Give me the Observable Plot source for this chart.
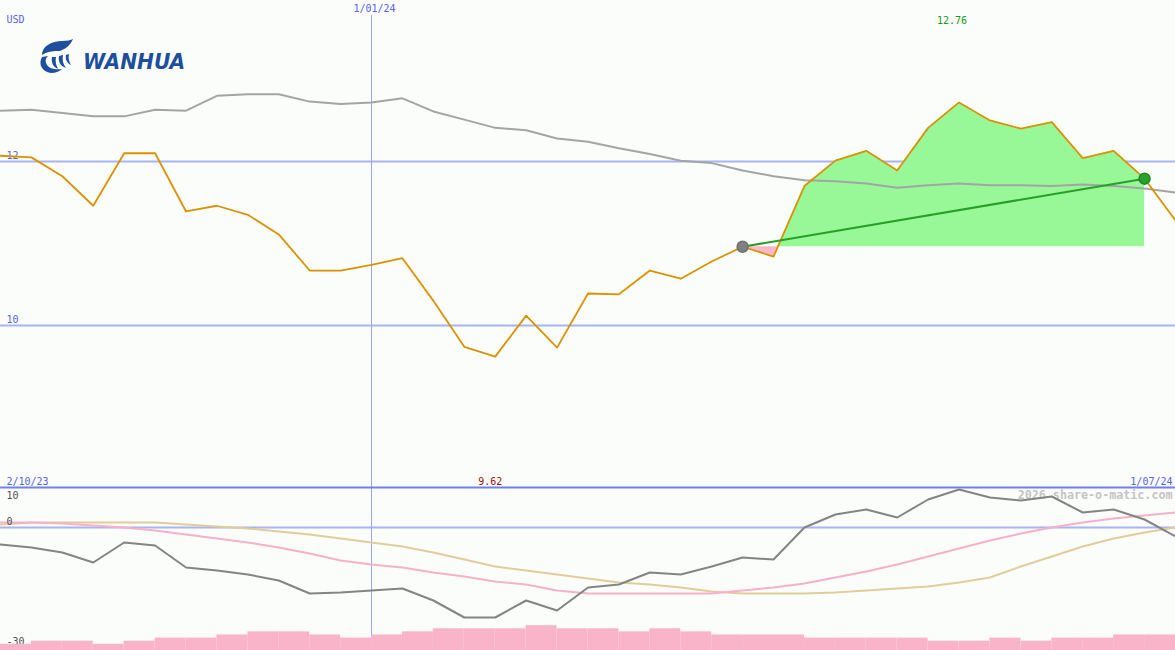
<!DOCTYPE html>
<html><head><meta charset="utf-8">
<script src="https://cdn.jsdelivr.net/npm/d3@7"></script>
<script src="https://cdn.jsdelivr.net/npm/@observablehq/plot@0.6"></script>
<style>
html,body{margin:0;padding:0;background:#fbfdfb;}
#chart{position:relative;width:1175px;height:650px;overflow:hidden;background:#fbfdfb;}
#chart > .layer{position:absolute;left:0;}
#chart svg{overflow:visible;}
</style></head><body><div id="chart"></div>
<script>
// ---- data (weekly, 2/10/23 .. 1/07/24) ----
const unitLabel = "USD";
const startLabel = "2/10/23", midLabel = "1/01/24", endLabel = "1/07/24";
const midIndex = 12;
const hiLabel = "12.76", loLabel = "9.62";
const closes = [12.07,12.05,11.82,11.46,12.10,12.10,11.39,11.46,11.35,11.11,10.67,10.67,10.74,10.82,10.30,9.74,9.62,10.12,9.73,10.39,10.38,10.67,10.57,10.78,10.96,10.84,11.70,12.01,12.13,11.89,12.41,12.72,12.50,12.40,12.48,12.04,12.13,11.79,11.28];
const movingAvg = [12.62,12.63,12.59,12.55,12.55,12.63,12.62,12.80,12.82,12.82,12.73,12.70,12.72,12.77,12.61,12.51,12.41,12.38,12.28,12.24,12.16,12.09,12.01,11.98,11.89,11.82,11.77,11.76,11.73,11.68,11.71,11.73,11.71,11.71,11.70,11.72,11.70,11.67,11.62];
const momentum = [-4.25,-5,-6.25,-8.75,-3.75,-4.5,-10,-10.75,-11.75,-13.25,-16.5,-16.25,-15.75,-15.25,-18.25,-22.5,-22.5,-18.25,-20.75,-15,-14.25,-11.25,-11.75,-9.75,-7.5,-8,0,3.25,4.5,2.5,7,9.5,7.5,6.75,7.75,3.75,4.5,2,-2.25];
const oscPink = [1.25,1.25,1,0.5,0,-0.75,-1.75,-2.75,-3.75,-5,-6.5,-8.25,-9.25,-10,-11.25,-12.25,-13.5,-14.25,-15.75,-16.5,-16.5,-16.5,-16.5,-16.5,-15.75,-15,-14,-12.5,-11,-9.25,-7.25,-5.25,-3.25,-1.5,0,1.25,2.25,3,3.75];
const oscTan = [0.75,1.25,1.25,1.25,1.25,1.25,0.75,0.25,-0.25,-1,-1.75,-2.75,-3.75,-4.75,-6.25,-8,-9.75,-10.75,-11.75,-12.75,-13.75,-14.25,-15,-16,-16.5,-16.5,-16.5,-16.25,-15.75,-15.25,-14.75,-13.75,-12.5,-9.75,-7.25,-4.75,-2.75,-1.25,0];
const volume = [2,3,3,2,3,4,4,5,6,6,5,4,5,6,7,7,7,8,7,7,6,7,6,5,5,5,4,4,4,4,3,3,4,3,4,4,5,5];
const priceTicks = [12, 10];
const oscTopTick = 10;
const oscTicks = [0, -30];
const trendStart = 24, trendEnd = 37;
const watermark = "2026 share-o-matic.com";

// ---- layout / styling ----
const W = 1175, H1 = 487, H2 = 163;
const mono = "DejaVu Sans Mono, monospace";
const blueText = "#5464f0", gridBlue = "#a8b4f4";
const n = closes.length;
const xDomain = [0, n - 1];

const rows = closes.map((c, i) => ({i, close: c, ma: movingAvg[i], mom: momentum[i], pink: oscPink[i], tan: oscTan[i]}));

// fill region between the price and the starting price of the trend
const base = closes[trendStart];
const seg = [];
for (let i = trendStart; i <= trendEnd; i++) {
  if (i > trendStart) {
    const a = closes[i - 1], b = closes[i];
    if ((a - base) * (b - base) < 0) { const t = (base - a) / (b - a); seg.push({x: i - 1 + t, y: base}); }
  }
  seg.push({x: i, y: closes[i]});
}
const hiIndex = closes.indexOf(d3.max(closes));
const loIndex = closes.indexOf(d3.min(closes));
const trendPts = [{i: trendStart, v: closes[trendStart]}, {i: trendEnd, v: closes[trendEnd]}];

const mainPlot = Plot.plot({
  width: W, height: H1, margin: 0,
  x: {domain: xDomain, axis: null},
  y: {domain: [8.024, 13.963], axis: null},
  style: {background: "transparent", overflow: "visible"},
  marks: [
    Plot.ruleY(priceTicks, {stroke: gridBlue, strokeWidth: 2}),
    Plot.ruleX([midIndex], {stroke: "#95a6fa", strokeWidth: 1, insetTop: 15}),
    Plot.areaY(seg, {x: "x", y1: () => base, y2: d => Math.max(d.y, base), fill: "#98f898"}),
    Plot.areaY(seg, {x: "x", y1: () => base, y2: d => Math.min(d.y, base), fill: "#f8b8cc"}),
    Plot.line(rows, {x: "i", y: "ma", stroke: "#a4a4a4", strokeWidth: 2}),
    Plot.text(priceTicks, {frameAnchor: "left", y: d => d, text: d => String(d), dx: 6, dy: -6, textAnchor: "start", fill: blueText, fontSize: 10, fontFamily: mono}),
    Plot.line(rows, {x: "i", y: "close", stroke: "#dc9200", strokeWidth: 1.8}),
    Plot.line(trendPts, {x: "i", y: "v", stroke: "#26a026", strokeWidth: 2}),
    Plot.dot([trendPts[0]], {x: "i", y: "v", r: 5.5, fill: "#808080", stroke: "#707070"}),
    Plot.dot([trendPts[1]], {x: "i", y: "v", r: 5.5, fill: "#2aa02a", stroke: "#1e8a1e"}),
    Plot.text([unitLabel], {frameAnchor: "top-left", text: d => d, dx: 6, dy: 15, fill: blueText, fontSize: 10, fontFamily: mono}),
    Plot.text([midLabel], {x: () => midIndex, frameAnchor: "top", text: d => d, dx: 3, dy: 4, lineAnchor: "top", fill: blueText, fontSize: 10, fontFamily: mono}),
    Plot.text([hiLabel], {x: () => hiIndex, frameAnchor: "top", text: d => d, dx: -7, dy: 16, lineAnchor: "top", fill: "#169b16", fontSize: 10, fontFamily: mono}),
    Plot.text([loLabel], {x: () => loIndex, frameAnchor: "bottom", text: d => d, dx: -5, dy: -3, lineAnchor: "bottom", fill: "#a01010", fontSize: 10, fontFamily: mono}),
    Plot.text([startLabel], {frameAnchor: "bottom-left", text: d => d, dx: 6, dy: -3, fill: blueText, fontSize: 10, fontFamily: mono}),
    Plot.text([endLabel], {frameAnchor: "bottom-right", text: d => d, dx: -3, dy: -3, fill: blueText, fontSize: 10, fontFamily: mono})
  ]
});

const oscPlot = Plot.plot({
  width: W, height: H2, margin: 0,
  x: {domain: xDomain, axis: null},
  y: {domain: [-30.75, 10], axis: null},
  style: {background: "transparent", overflow: "visible"},
  marks: [
    Plot.ruleY([0], {stroke: gridBlue, strokeWidth: 2}),
    Plot.ruleX([midIndex], {stroke: "#95a6fa", strokeWidth: 1, insetBottom: 15}),
    Plot.text([watermark], {frameAnchor: "top-right", text: d => d, dx: -3, dy: 3, fill: "#c4c4c4", fontSize: 11.7, fontWeight: "bold", fontFamily: mono}),
    Plot.line(rows, {x: "i", y: "tan", stroke: "#e2cc9a", strokeWidth: 2}),
    Plot.line(rows, {x: "i", y: "pink", stroke: "#f8b0c8", strokeWidth: 2}),
    Plot.line(rows, {x: "i", y: "mom", stroke: "#848484", strokeWidth: 2}),
    Plot.ruleY([oscTopTick], {stroke: "#7080f0", strokeWidth: 2}),
    Plot.text([oscTopTick], {frameAnchor: "top-left", text: d => String(d), dx: 6, dy: 4, fill: "#505050", fontSize: 10, fontFamily: mono}),
    Plot.text(oscTicks, {frameAnchor: "left", y: d => d, text: d => String(d), dx: 6, dy: -6, fill: "#505050", fontSize: 10, fontFamily: mono})
  ]
});

const volPlot = Plot.plot({
  width: W, height: H2, margin: 0,
  x: {domain: xDomain, axis: null},
  y: {domain: [0, 52.5], axis: null},
  style: {background: "transparent", overflow: "visible"},
  marks: [
    Plot.rectY(volume, {x1: (d, i) => i, x2: (d, i) => i + 1, y1: () => 0, y2: d => d, fill: "#fab4c9", inset: 0})
  ]
});

const chart = document.getElementById("chart");
function place(el, top) {
  el.classList.add("layer");
  el.style.top = top + "px";
  chart.appendChild(el);
}
place(mainPlot, 0);
place(oscPlot, H1);
place(volPlot, H1);

// logo
const logo = document.createElement("div");
logo.className = "layer";
logo.style.top = "36px";
logo.style.left = "36px";
logo.innerHTML = `<svg width="160" height="42" viewBox="0 0 160 42">
  <g fill="#1c4f9e">
    <path d="M6,19 C6,10 16,5 26,5 C31,5 35,4 37,3 C35,8 30,13 24,15 C18,15 12,15 6,19 Z"/>
    <path d="M6,21 C2,28 6,36 15,37 C20,37 24,35 26,33 C20,34 12,33 10,27 C9,24 10,22 12,20 Z"/>
    <path d="M16,21 C15,26 17,31 22,33 C20,29 19,25 20,21 Z"/>
    <path d="M23,20 C22,25 24,30 30,32 C27,28 26,24 27,19 Z"/>
    <path d="M30,19 C29,23 31,27 35,29 C33,26 32,22 33,18 Z"/>
  </g>
  <text x="47" y="33" font-family="DejaVu Sans, sans-serif" font-weight="bold" font-style="italic" font-size="21" fill="#1c4f9e" textLength="102" lengthAdjust="spacingAndGlyphs">WANHUA</text>
</svg>`;
chart.appendChild(logo);
</script>
</body></html>
